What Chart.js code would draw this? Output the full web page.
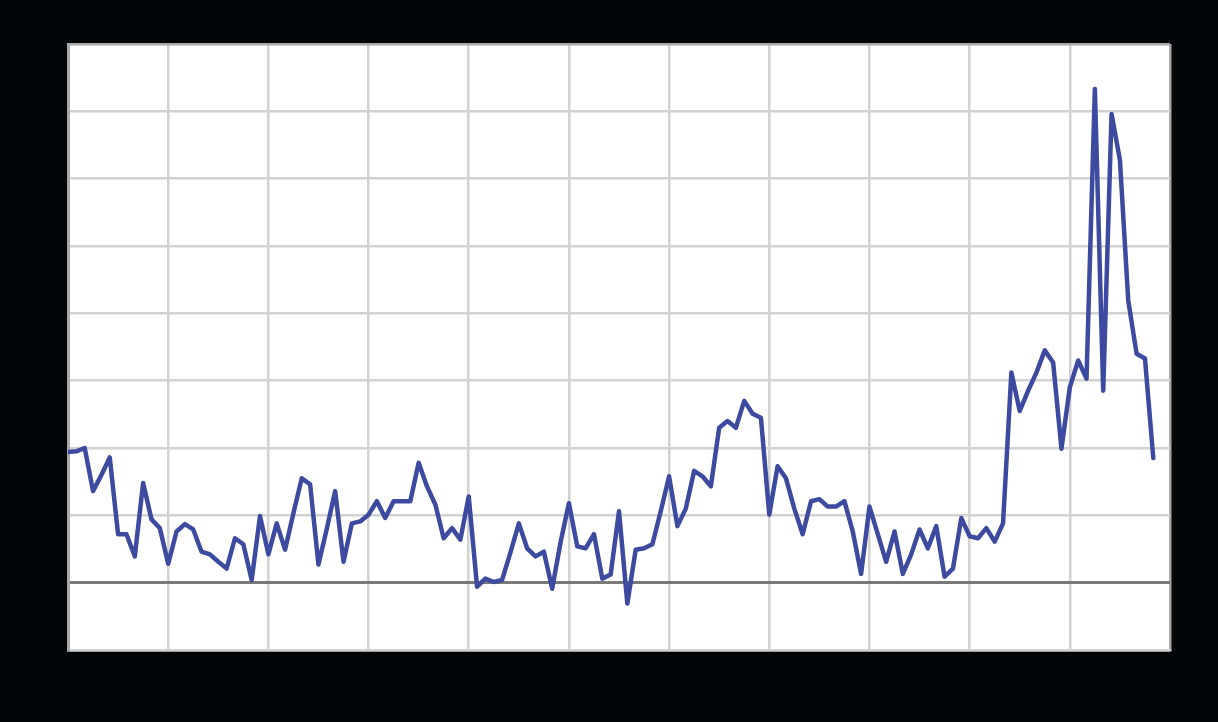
<!DOCTYPE html>
<html>
<head>
<meta charset="utf-8">
<script src="https://cdn.jsdelivr.net/npm/chart.js@4/dist/chart.umd.min.js"></script>
<style>
  html, body { margin: 0; padding: 0; background: #030608; }
  #wrap { width: 1218px; height: 722px; position: relative; }
</style>
</head>
<body>
<div id="wrap"><canvas id="c" width="1218" height="722"></canvas></div>
<script>
// Monthly index (0 = first month) and series values
const values = [
  1.94, 1.95, 2.00, 1.36, 1.60, 1.86, 0.72, 0.72, 0.39, 1.48,
  0.94, 0.81, 0.28, 0.76, 0.87, 0.79, 0.46, 0.42, 0.31, 0.21,
  0.66, 0.57, 0.04, 0.99, 0.42, 0.88, 0.49, 1.03, 1.55, 1.46,
  0.27, 0.80, 1.36, 0.31, 0.88, 0.91, 1.01, 1.21, 0.96, 1.21,
  1.21, 1.21, 1.78, 1.43, 1.16, 0.66, 0.81, 0.64, 1.28, -0.06,
  0.06, 0.01, 0.04, 0.45, 0.88, 0.51, 0.39, 0.46, -0.09, 0.60,
  1.18, 0.54, 0.51, 0.72, 0.06, 0.12, 1.06, -0.31, 0.49, 0.51,
  0.57, 1.06, 1.58, 0.84, 1.10, 1.66, 1.58, 1.43, 2.30, 2.40,
  2.30, 2.70, 2.51, 2.45, 1.01, 1.73, 1.55, 1.10, 0.72, 1.21,
  1.24, 1.13, 1.13, 1.21, 0.76, 0.13, 1.13, 0.72, 0.31, 0.76,
  0.13, 0.42, 0.79, 0.51, 0.84, 0.09, 0.21, 0.96, 0.69, 0.66,
  0.81, 0.61, 0.88, 3.12, 2.55, 2.85, 3.12, 3.45, 3.27, 1.99,
  2.90, 3.30, 3.03, 7.33, 2.85, 6.96, 6.28, 4.19, 3.40, 3.33,
  1.85
];
const xMin = 0, xMax = 132, xStep = 12;   // 11 years of months
const yMin = -1, yMax = 8, yStep = 1;

const points = values.map((v, i) => ({ x: i, y: v }));

const plotBg = {
  id: 'plotBg',
  beforeDraw(chart) {
    const { ctx, chartArea: a } = chart;
    ctx.save();
    ctx.fillStyle = '#ffffff';
    ctx.fillRect(a.left, a.top, a.right - a.left, a.bottom - a.top);
    ctx.restore();
  }
};

new Chart(document.getElementById('c'), {
  type: 'line',
  data: {
    datasets: [{
      data: points,
      borderColor: '#3c4aa0',
      borderWidth: 4.5,
      pointRadius: 0,
      tension: 0,
      borderJoinStyle: 'round',
      borderCapStyle: 'round',
      fill: false
    }]
  },
  options: {
    responsive: false,
    animation: false,
    layout: { padding: { left: 68, top: 44, right: 48, bottom: 72 } },
    plugins: { legend: { display: false }, tooltip: { enabled: false } },
    scales: {
      x: {
        type: 'linear', min: xMin, max: xMax,
        ticks: { display: false, stepSize: xStep },
        grid: {
          drawTicks: false,
          color: (c) => (c.tick && (c.tick.value === xMin || c.tick.value === xMax)) ? '#a8a8a8' : '#d2d2d2',
          lineWidth: 2.5
        },
        border: { display: true, color: '#d2d2d2', width: 2.5 }
      },
      y: {
        type: 'linear', min: yMin, max: yMax,
        ticks: { display: false, stepSize: yStep },
        grid: {
          drawTicks: false,
          color: (c) => {
            if (!c.tick) return '#d2d2d2';
            if (c.tick.value === 0) return '#7a7a7a';
            if (c.tick.value === yMax) return '#a8a8a8';
            return '#d2d2d2';
          },
          lineWidth: (c) => (c.tick && c.tick.value === 0) ? 3 : 2.5
        },
        border: { display: true, color: '#a8a8a8', width: 3 }
      }
    }
  },
  plugins: [plotBg]
});
</script>
</body>
</html>
